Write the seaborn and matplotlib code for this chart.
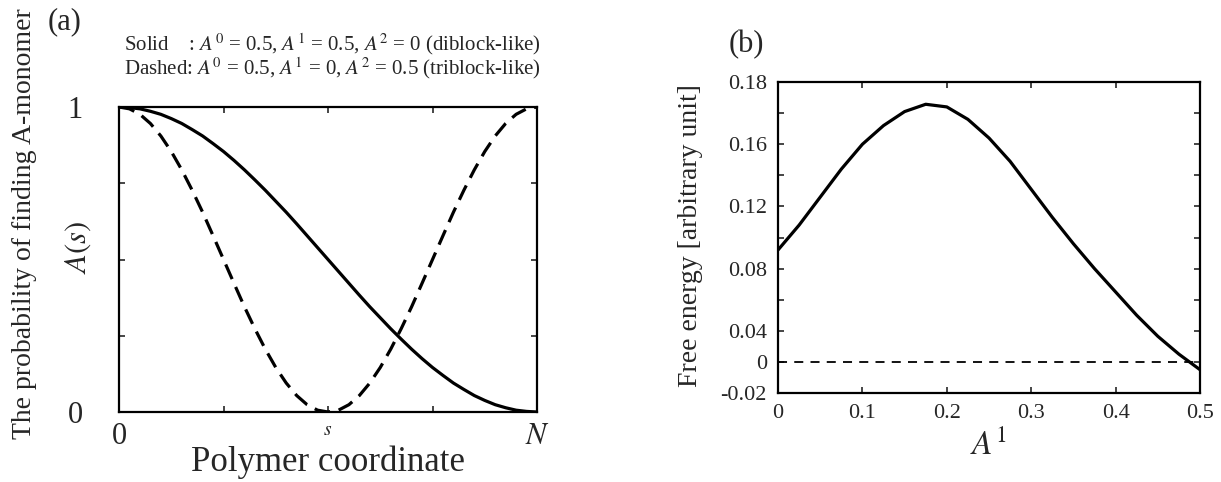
"""
Two-panel figure: (a) A-monomer probability along the chain,
(b) free energy versus the A^1 coefficient.
"""
import matplotlib
matplotlib.use("Agg")
import matplotlib.pyplot as plt
import numpy as np
import pandas as pd
import seaborn as sns

sns.set_style("ticks")
plt.rcParams["font.family"] = ["Liberation Serif", "DejaVu Serif"]
plt.rcParams["mathtext.fontset"] = "stix"

# Panel (a): polymer coordinate s/N and A(s)
s_pos = [0.000, 0.025, 0.050, 0.075, 0.100, 0.125, 0.150, 0.175, 0.200, 0.225,
         0.250, 0.275, 0.300, 0.325, 0.350, 0.375, 0.400, 0.425, 0.450, 0.475,
         0.500, 0.525, 0.550, 0.575, 0.600, 0.625, 0.650, 0.675, 0.700, 0.725,
         0.750, 0.775, 0.800, 0.825, 0.850, 0.875, 0.900, 0.925, 0.950, 0.975, 1.000]
a_solid = [1.000, 0.998, 0.994, 0.986, 0.976, 0.962, 0.946, 0.926, 0.905, 0.880,
           0.854, 0.825, 0.794, 0.761, 0.727, 0.691, 0.655, 0.617, 0.578, 0.539,
           0.500, 0.461, 0.422, 0.383, 0.345, 0.309, 0.273, 0.239, 0.206, 0.175,
           0.146, 0.120, 0.095, 0.074, 0.054, 0.038, 0.024, 0.014, 0.006, 0.002, 0.000]
a_dashed = [1.000, 0.994, 0.976, 0.946, 0.905, 0.854, 0.794, 0.727, 0.655, 0.578,
            0.500, 0.422, 0.345, 0.273, 0.206, 0.146, 0.095, 0.054, 0.024, 0.006,
            0.000, 0.006, 0.024, 0.054, 0.095, 0.146, 0.206, 0.273, 0.345, 0.422,
            0.500, 0.578, 0.655, 0.727, 0.794, 0.854, 0.905, 0.946, 0.976, 0.994, 1.000]
a_xticks = [0.0, 0.5, 1.0]
a_xticklabels = ["0", "$s$", "$N$"]

# Panel (b): free energy vs A^1
a1_vals = [0.000, 0.025, 0.050, 0.075, 0.100, 0.125, 0.150, 0.175, 0.200, 0.225, 0.250,
           0.275, 0.300, 0.325, 0.350, 0.375, 0.400, 0.425, 0.450, 0.475, 0.500]
free_energy = [0.072, 0.088, 0.106, 0.124, 0.140, 0.152, 0.161, 0.1657, 0.164, 0.156, 0.144,
               0.129, 0.111, 0.093, 0.076, 0.060, 0.045, 0.030, 0.0165, 0.005, -0.005]
b_xticks = [0.0, 0.1, 0.2, 0.3, 0.4, 0.5]
b_xticklabels = ["0", "0.1", "0.2", "0.3", "0.4", "0.5"]
# tick labels as printed in the original figure
b_yticks = [-0.02, 0.0, 0.02, 0.06, 0.10, 0.14, 0.18]
b_yticklabels = ["-0.02", "0", "0.04", "0.08", "0.12", "0.16", "0.18"]
b_yminor = [0.04, 0.08, 0.12, 0.16]

fig = plt.figure(figsize=(12.21, 4.82), dpi=100)
ax_a = fig.add_axes([0.0975, 0.1452, 0.3423, 0.6328])
ax_b = fig.add_axes([0.6372, 0.1846, 0.3456, 0.6452])

# ---- panel (a)
n = len(s_pos)
df_a = pd.DataFrame({
    "s": s_pos * 2,
    "A": a_solid + a_dashed,
    "case": ["diblock"] * n + ["triblock"] * n,
})
sns.lineplot(data=df_a, x="s", y="A", style="case",
             dashes={"diblock": "", "triblock": (5, 2.7)},
             color="black", linewidth=2.3, errorbar=None, legend=False, ax=ax_a)
ax_a.set_xlim(0, 1)
ax_a.set_ylim(0, 1)
ax_a.set_xticks(a_xticks)
ax_a.set_xticklabels(a_xticklabels, fontsize=22)
ax_a.get_xticklabels()[1].set_fontsize(14)
ax_a.set_xticks([0.25, 0.75], minor=True)
ax_a.set_yticks([0, 1])
ax_a.set_yticklabels(["0", "1"], fontsize=22)
ax_a.set_yticks([0.25, 0.5, 0.75], minor=True)
ax_a.tick_params(which="both", direction="in", top=True, right=True,
                 length=4, width=1.2)
ax_a.tick_params(axis="y", pad=26)
ax_a.tick_params(axis="x", pad=7)
ax_a.set_xlabel("Polymer coordinate", fontsize=25)
ax_a.xaxis.set_label_coords(0.5, -0.11)
ax_a.set_ylabel("$A(s)$", fontsize=22)
ax_a.yaxis.set_label_coords(-0.062, 0.54)

# ---- panel (b)
df_b = pd.DataFrame({"A1": a1_vals, "F": free_energy})
sns.lineplot(data=df_b, x="A1", y="F", color="black", linewidth=2.3,
             errorbar=None, ax=ax_b)
ax_b.axhline(0, color="black", linewidth=1.3, linestyle=(0, (5, 4)))
ax_b.set_xlim(0, 0.5)
ax_b.set_ylim(-0.02, 0.18)
ax_b.set_xticks(b_xticks)
ax_b.set_xticklabels(b_xticklabels, fontsize=16)
ax_b.set_yticks(b_yticks)
ax_b.set_yticklabels(b_yticklabels, fontsize=16)
ax_b.set_yticks(b_yminor, minor=True)
ax_b.tick_params(which="both", direction="in", top=True, right=True,
                 length=4, width=1.2, pad=8)
ax_b.set_xlabel("$A^1$", fontsize=24)
ax_b.xaxis.set_label_coords(0.5, -0.12)
ax_b.set_ylabel("Free energy [arbitrary unit]", fontsize=20)
ax_b.yaxis.set_label_coords(-0.178, 0.505)

for ax in (ax_a, ax_b):
    for sp in ax.spines.values():
        sp.set_linewidth(1.6)
        sp.set_color("black")

# ---- figure texts
fig.text(25 / 1221, 1 - 224 / 482, "The probability of finding A-monomer",
         rotation=90, ha="center", va="center", fontsize=20)
fig.text(65 / 1221, 1 - 22 / 482, "(a)", ha="center", va="center", fontsize=22)
fig.text(746 / 1221, 1 - 45 / 482, "(b)", ha="center", va="center", fontsize=22)
fig.text(124 / 1221, 1 - 44 / 482,
         r"Solid    : $A^0$ = 0.5, $A^1$ = 0.5, $A^2$ = 0 (diblock-like)",
         ha="left", va="center", fontsize=15)
fig.text(124 / 1221, 1 - 68 / 482,
         r"Dashed: $A^0$ = 0.5, $A^1$ = 0, $A^2$ = 0.5 (triblock-like)",
         ha="left", va="center", fontsize=15)

fig.savefig("out.png", dpi=100)
